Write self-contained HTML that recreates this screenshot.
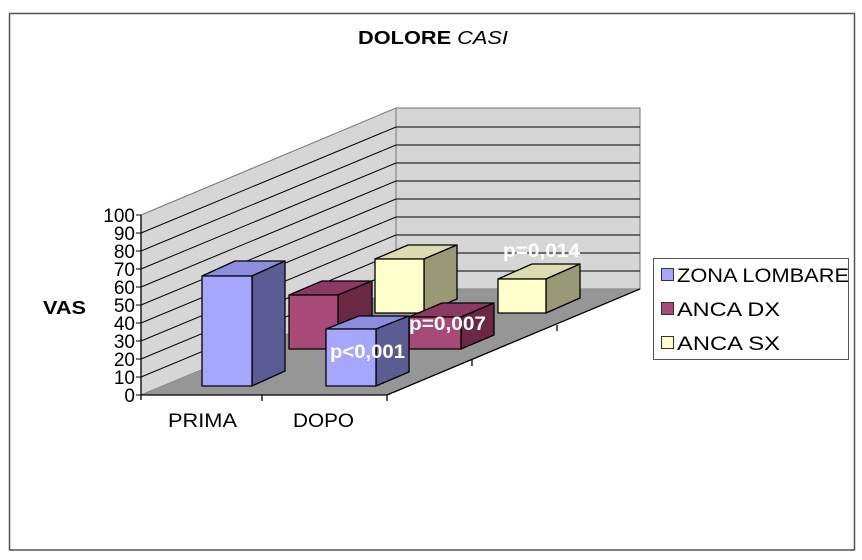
<!DOCTYPE html>
<html><head><meta charset="utf-8"><style>
html,body{margin:0;padding:0;background:#fff}
svg{display:block}
text{font-family:"Liberation Sans",Arial,sans-serif}
</style></head><body>
<svg width="862" height="560" viewBox="0 0 862 560" xmlns="http://www.w3.org/2000/svg">
<rect x="9.5" y="13.5" width="845" height="536.5" fill="#fff" stroke="#555" stroke-width="1.5"/>
<text x="358" y="44" font-size="18" font-weight="bold" textLength="150" lengthAdjust="spacingAndGlyphs">DOLORE <tspan font-weight="normal" font-style="italic">CASI</tspan></text>
<text x="43" y="314" font-size="18" font-weight="bold" textLength="43" lengthAdjust="spacingAndGlyphs">VAS</text>

<polygon points="141,395 141,215 396,108 396,289" fill="#d6d6d6" stroke="#777" stroke-width="1"/>
<polygon points="396,108 640,108 640,289 396,289" fill="#d6d6d6" stroke="#777" stroke-width="1"/>
<polygon points="141,395 387,395 640,289 396,289" fill="#969696"/>
<g stroke="#000" stroke-width="1">
<line x1="141" y1="377" x2="396" y2="271"/><line x1="396" y1="271" x2="640" y2="271"/>
<line x1="141" y1="359" x2="396" y2="253"/><line x1="396" y1="253" x2="640" y2="253"/>
<line x1="141" y1="341" x2="396" y2="235"/><line x1="396" y1="235" x2="640" y2="235"/>
<line x1="141" y1="323" x2="396" y2="217"/><line x1="396" y1="217" x2="640" y2="217"/>
<line x1="141" y1="305" x2="396" y2="199"/><line x1="396" y1="199" x2="640" y2="199"/>
<line x1="141" y1="287" x2="396" y2="181"/><line x1="396" y1="181" x2="640" y2="181"/>
<line x1="141" y1="269" x2="396" y2="163"/><line x1="396" y1="163" x2="640" y2="163"/>
<line x1="141" y1="251" x2="396" y2="145"/><line x1="396" y1="145" x2="640" y2="145"/>
<line x1="141" y1="233" x2="396" y2="127"/><line x1="396" y1="127" x2="640" y2="127"/>
</g>
<g stroke="#000" stroke-width="1.3" fill="none">
<line x1="141" y1="215" x2="141" y2="400"/>
<line x1="141" y1="395" x2="387" y2="395"/>
<line x1="387" y1="395" x2="640" y2="289"/>
<line x1="262" y1="395" x2="262" y2="401"/>
<line x1="387" y1="395" x2="387" y2="401"/>
<line x1="472" y1="360" x2="472" y2="366"/>
<line x1="557" y1="325" x2="557" y2="331"/>
</g>
<g stroke="#000" stroke-width="1">
<line x1="136" y1="395" x2="141" y2="395"/><line x1="136" y1="377" x2="141" y2="377"/><line x1="136" y1="359" x2="141" y2="359"/><line x1="136" y1="341" x2="141" y2="341"/><line x1="136" y1="323" x2="141" y2="323"/><line x1="136" y1="305" x2="141" y2="305"/><line x1="136" y1="287" x2="141" y2="287"/><line x1="136" y1="269" x2="141" y2="269"/><line x1="136" y1="251" x2="141" y2="251"/><line x1="136" y1="233" x2="141" y2="233"/><line x1="136" y1="215" x2="141" y2="215"/>
</g>
<g font-size="19" text-anchor="end">
<text x="135" y="402">0</text><text x="135" y="384">10</text><text x="135" y="366">20</text><text x="135" y="348">30</text><text x="135" y="330">40</text><text x="135" y="312">50</text><text x="135" y="294">60</text><text x="135" y="276">70</text><text x="135" y="258">80</text><text x="135" y="240">90</text><text x="135" y="222">100</text>
</g>
<text x="168" y="427" font-size="19" textLength="69" lengthAdjust="spacingAndGlyphs">PRIMA</text>
<text x="293" y="427" font-size="19" textLength="61" lengthAdjust="spacingAndGlyphs">DOPO</text>

<g stroke="#000" stroke-width="1.3" stroke-linejoin="round">
<polygon points="375,259 408,245 457,245 424,259" fill="#dcdcb0"/>
<polygon points="424,259 457,245 457,299 424,313" fill="#999977"/>
<rect x="375" y="259" width="49" height="54" fill="#ffffcc"/>
<polygon points="498,279 532,264 580,264 546,279" fill="#dcdcb0"/>
<polygon points="546,279 580,264 580,298 546,313" fill="#999977"/>
<rect x="498" y="279" width="48" height="34" fill="#ffffcc"/>
<polygon points="289,295 322,281 372,281 338,295" fill="#8a3a62"/>
<polygon points="338,295 372,281 372,335 338,349" fill="#6b2843"/>
<rect x="289" y="295" width="49" height="54" fill="#a84a78"/>
<polygon points="409,317 442,303 494,303 461,317" fill="#8a3a62"/>
<polygon points="461,317 494,303 494,335 461,349" fill="#6b2843"/>
<rect x="409" y="317" width="52" height="32" fill="#a84a78"/>
<polygon points="202,276 235,261 285,261 252,276" fill="#8c8ce0"/>
<polygon points="252,276 285,261 285,371 252,386" fill="#5c5c94"/>
<rect x="202" y="276" width="50" height="110" fill="#a6a6ff"/>
<polygon points="326,329 359,316 409,316 376,329" fill="#8c8ce0"/>
<polygon points="376,329 409,316 409,372 376,386" fill="#5c5c94"/>
<rect x="326" y="329" width="50" height="57" fill="#a6a6ff"/>
</g>
<g font-size="19" font-weight="bold" fill="#fff">
<text x="330" y="358" textLength="75" lengthAdjust="spacingAndGlyphs">p&lt;0,001</text>
<text x="409" y="330" textLength="77" lengthAdjust="spacingAndGlyphs">p=0,007</text>
<text x="503" y="257" textLength="77" lengthAdjust="spacingAndGlyphs">p=0,014</text>
</g>

<rect x="653.5" y="258.5" width="195" height="101" fill="#fff" stroke="#555" stroke-width="1"/>
<rect x="661.5" y="268.5" width="12" height="12" fill="#a6a6ff" stroke="#333"/>
<rect x="661.5" y="302.5" width="12" height="12" fill="#a84a78" stroke="#333"/>
<rect x="661.5" y="336.5" width="12" height="12" fill="#ffffcc" stroke="#333"/>
<g font-size="19">
<text x="677" y="282" textLength="172" lengthAdjust="spacingAndGlyphs">ZONA LOMBARE</text>
<text x="677" y="316" textLength="103" lengthAdjust="spacingAndGlyphs">ANCA DX</text>
<text x="677" y="350" textLength="103" lengthAdjust="spacingAndGlyphs">ANCA SX</text>
</g>
</svg>
</body></html>
